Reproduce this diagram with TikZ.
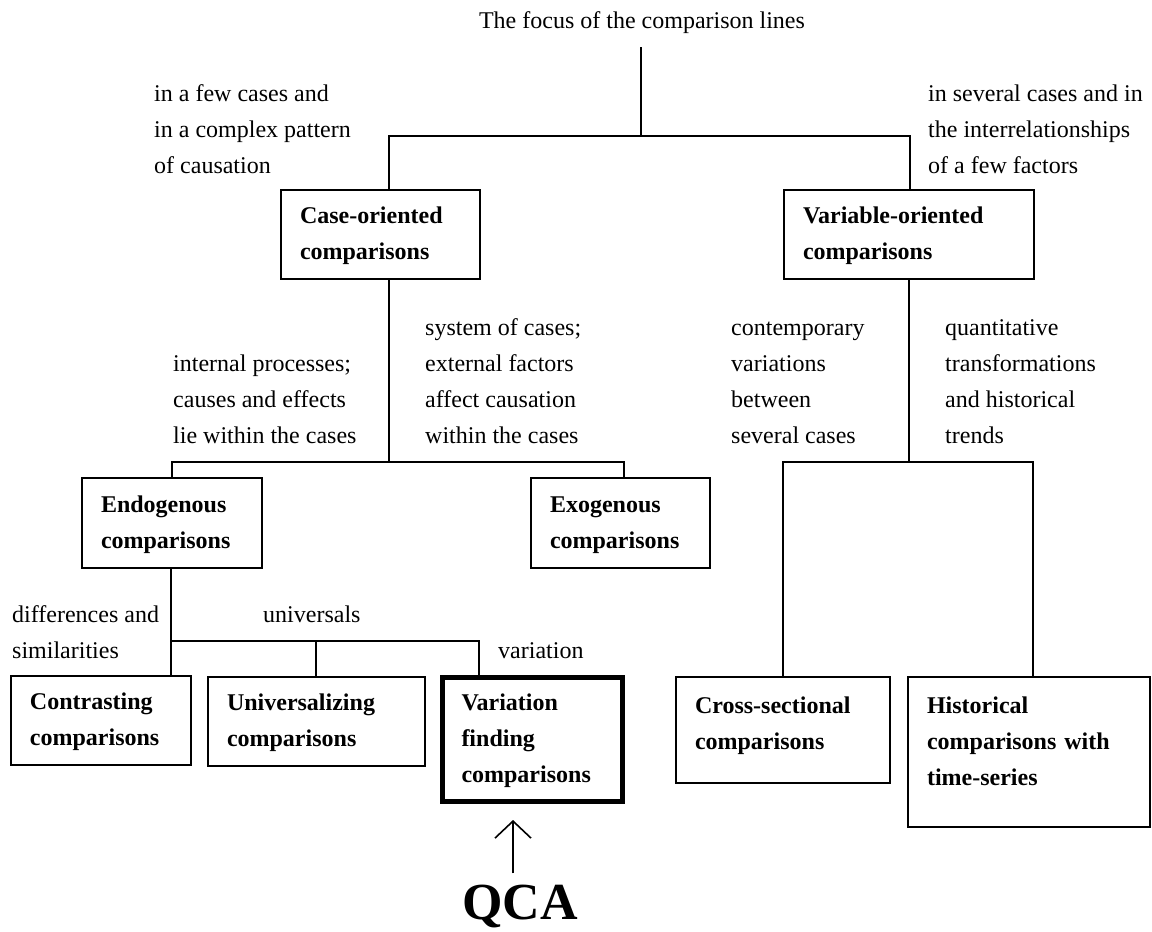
\documentclass[tikz,border=0pt]{standalone}
\usepackage{fontspec}
\setmainfont{Liberation Serif}
\usetikzlibrary{arrows.meta}
\begin{document}
\begin{tikzpicture}[x=1pt,y=-1pt,
  lab/.style={font=\fontsize{24}{36}\selectfont, align=left, inner sep=0pt, anchor=north west},
  box/.style={draw, line width=2.6pt, font=\bfseries\fontsize{24}{36}\selectfont, align=left, inner xsep=19pt, inner ysep=0pt},
  thickbox/.style={box, line width=5pt},
  conn/.style={line width=2.6pt, line join=miter},
  qarr/.style={line width=1.6pt, -{Straight Barb[length=17pt,width=36pt]}}]
\useasboundingbox (0,0) rectangle (1152,932);

% title
\node[font=\fontsize{24}{36}\selectfont, inner sep=0pt, anchor=base] (title) at (642,28) {The focus of the comparison lines};

% boxes
\node[box, minimum width=199pt, minimum height=89pt, text width=161pt] (case) at (380.5,234.5) {\strut Case-oriented\\comparisons\strut};
\node[box, minimum width=250pt, minimum height=89pt, text width=212pt] (var) at (909,234.5) {\strut Variable-oriented\\comparisons\strut};
\node[box, minimum width=180pt, minimum height=90pt, text width=142pt] (endo) at (172,523) {\strut Endogenous\\comparisons\strut};
\node[box, minimum width=179pt, minimum height=90pt, text width=141pt] (exo) at (620.5,523) {\strut Exogenous\\comparisons\strut};
\node[box, minimum width=180pt, minimum height=89pt, text width=142pt] (contr) at (101,720.5) {\strut Contrasting\\comparisons\strut};
\node[box, minimum width=217pt, minimum height=89pt, text width=179pt] (univ) at (316.5,721.5) {\strut Universalizing\\comparisons\strut};
\node[thickbox, minimum width=180pt, minimum height=124pt, text width=142pt] (varf) at (532.5,739.5) {\strut Variation\\finding\\comparisons\strut};
\node[box, minimum width=214pt, minimum height=106pt, text width=176pt] (cross) at (783,730) {\strut Cross-sectional\\comparisons\rule[-22.8pt]{0pt}{1pt}};
\node[box, minimum width=242pt, minimum height=150pt, text width=204pt] (hist) at (1029,752) {\strut Historical\\comparisons with\\time-series\rule[-31.2pt]{0pt}{1pt}};

% labels
\node[lab] (l1) at (154,75.8) {\strut in a few cases and\\in a complex pattern\\of causation};
\node[lab] (r1) at (928,75.8) {\strut in several cases and in\\the interrelationships\\of a few factors};
\node[lab] (l2) at (173,345.8) {\strut internal processes;\\causes and effects\\lie within the cases};
\node[lab] (r2) at (425,309.8) {\strut system of cases;\\external factors\\affect causation\\within the cases};
\node[lab] (l3) at (731,309.8) {\strut contemporary\\variations\\between\\several cases};
\node[lab] (r3) at (945,309.8) {\strut quantitative\\transformations\\and historical\\trends};
\node[lab] (l4) at (12,596.8) {\strut differences and\\similarities};
\node[lab] (m4) at (263,596.8) {\strut universals};
\node[lab] (r4) at (498,632.8) {\strut variation};

% QCA
\node[font=\bfseries\fontsize{52}{60}\selectfont, inner sep=0pt, anchor=base] (qca) at (520,919) {QCA};

% junction coordinates
\coordinate (j1) at (641,136);
\coordinate (h1L) at (389,136);
\coordinate (h1R) at (910,136);
\coordinate (j2) at (389,462);
\coordinate (h2L) at (172,462);
\coordinate (h2R) at (624,462);
\coordinate (j3) at (909,462);
\coordinate (h3L) at (783,462);
\coordinate (h3R) at (1033,462);
\coordinate (j4) at (171,641);
\coordinate (h4M) at (316,641);
\coordinate (h4R) at (479,641);
\coordinate (ax) at (513,0);

% connectors
\draw[conn, shorten <=14pt] (title.south -| j1) -- (j1);
\draw[conn] (case.north -| h1L) -- (h1L) -- (h1R) -- (var.north -| h1R);
\draw[conn] (case.south -| j2) -- (j2);
\draw[conn] (endo.north -| h2L) -- (h2L) -- (h2R) -- (exo.north -| h2R);
\draw[conn] (var.south -| j3) -- (j3);
\draw[conn] (cross.north -| h3L) -- (h3L) -- (h3R) -- (hist.north -| h3R);
\draw[conn] (endo.south -| j4) -- (contr.north -| j4);
\draw[conn] (j4) -- (h4R) -- (varf.north -| h4R);
\draw[conn] (h4M) -- (univ.north -| h4M);
\draw[qarr, shorten <=11pt, shorten >=16pt] (qca.north -| ax) -- (varf.south -| ax);
\end{tikzpicture}
\end{document}
